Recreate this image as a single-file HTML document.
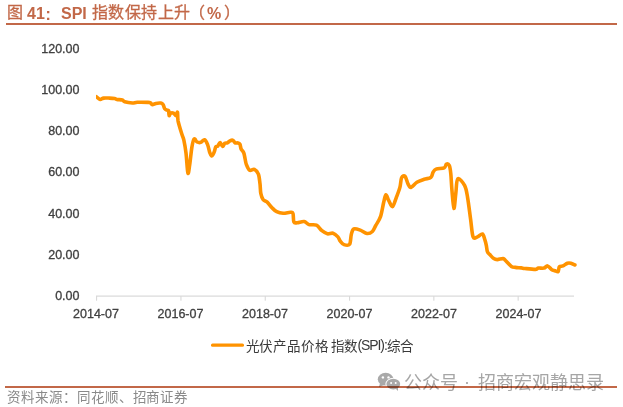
<!DOCTYPE html>
<html lang="zh-CN"><head><meta charset="utf-8">
<style>
html,body{margin:0;padding:0;background:#fff;}
body{width:623px;height:407px;overflow:hidden;position:relative;font-family:"Liberation Sans",sans-serif;}
.a{position:absolute;white-space:nowrap;line-height:1;}
.t{color:#C26848;}
.tc{font-family:"Liberation Serif",serif;font-size:16px;font-weight:500;-webkit-text-stroke:0.3px #C26848;}
.tl{font-family:"Liberation Sans",sans-serif;font-size:16px;font-weight:bold;}
#src{left:7px;top:390.5px;font-size:13.5px;letter-spacing:0.95px;font-weight:300;color:#8a8a8a;font-family:"Liberation Serif",serif;}
#wm{mix-blend-mode:multiply;}
.lg{font-size:13.5px;letter-spacing:0.9px;font-weight:350;color:#3a3a3a;font-family:"Liberation Sans",sans-serif;}
.lgl{font-size:14px;letter-spacing:-1.1px;font-weight:normal;}
.w{color:#a6a6a6;font-size:18px;font-family:"Liberation Sans",sans-serif;}
</style></head><body>
<span class="a t tc" style="left:7px;top:5px">图</span>
<span class="a t tl" style="left:27px;top:6px">41</span>
<span class="a t tl" style="left:45.5px;top:6.5px">:</span>
<span class="a t tl" style="left:61px;top:6px">SPI</span>
<span class="a t tc" style="left:92px;top:5px;letter-spacing:0.4px">指数保持上升</span>
<span class="a t tc" style="left:189px;top:5px">（</span>
<span class="a t tl" style="left:207px;top:6px">%</span>
<span class="a t tc" style="left:224px;top:5px">）</span>
<svg class="a" style="left:0;top:0" width="623" height="407" viewBox="0 0 623 407">
  <defs><clipPath id="pc"><rect x="96" y="30" width="500" height="270"/></clipPath></defs>
  <rect x="6" y="23" width="611" height="2" fill="#C26848"/>
  <g font-family="Liberation Sans, sans-serif" font-size="12.5" fill="#404040" stroke="#404040" stroke-width="0.3" text-anchor="end">
    <text x="79.5" y="53">120.00</text>
    <text x="79.5" y="94">100.00</text>
    <text x="79.5" y="135">80.00</text>
    <text x="79.5" y="176">60.00</text>
    <text x="79.5" y="218">40.00</text>
    <text x="79.5" y="259">20.00</text>
    <text x="79.5" y="300">0.00</text>
  </g>
  <g fill="#d9d9d9">
    <rect x="96" y="295.5" width="478" height="1.2"/>
    <rect x="96" y="296" width="1.1" height="4.7"/>
    <rect x="180.4" y="296" width="1.1" height="4.7"/>
    <rect x="264.7" y="296" width="1.1" height="4.7"/>
    <rect x="349" y="296" width="1.1" height="4.7"/>
    <rect x="433.3" y="296" width="1.1" height="4.7"/>
    <rect x="517.6" y="296" width="1.1" height="4.7"/>
  </g>
  <g font-family="Liberation Sans, sans-serif" font-size="12.5" fill="#404040" stroke="#404040" stroke-width="0.3" text-anchor="middle">
    <text x="96" y="318">2014-07</text>
    <text x="180.5" y="318">2016-07</text>
    <text x="265" y="318">2018-07</text>
    <text x="349.5" y="318">2020-07</text>
    <text x="434" y="318">2022-07</text>
    <text x="518.5" y="318">2024-07</text>
  </g>
  <path d="M96.30 96.70 C96.95 97.15 98.98 99.17 100.20 99.40 C101.42 99.63 102.08 98.32 103.60 98.10 C105.12 97.88 107.47 98.03 109.30 98.10 C111.13 98.17 113.32 98.28 114.60 98.50 C115.88 98.72 115.72 99.15 117.00 99.40 C118.28 99.65 121.02 99.60 122.30 100.00 C123.58 100.40 123.02 101.30 124.70 101.80 C126.38 102.30 130.30 102.92 132.40 103.00 C134.50 103.08 134.70 102.40 137.30 102.30 C139.90 102.20 145.80 102.30 148.00 102.40 C150.20 102.50 149.77 102.50 150.50 102.90 C151.23 103.30 151.50 104.72 152.40 104.80 C153.30 104.88 154.50 103.68 155.90 103.40 C157.30 103.12 159.58 102.87 160.80 103.10 C162.02 103.33 162.55 103.85 163.20 104.80 C163.85 105.75 164.03 107.90 164.70 108.80 C165.37 109.70 166.55 109.88 167.20 110.20 C167.85 110.52 168.28 109.80 168.60 110.70 C168.92 111.60 168.77 115.18 169.10 115.60 C169.43 116.02 169.85 113.60 170.60 113.20 C171.35 112.80 172.70 112.80 173.60 113.20 C174.50 113.60 175.35 115.77 176.00 115.60 C176.65 115.43 177.17 111.37 177.50 112.20 C177.83 113.03 177.50 116.92 178.00 120.60 C178.73 124.28 180.93 131.10 181.90 134.30 C182.87 137.50 183.12 136.68 183.80 139.80 C184.48 142.92 185.32 147.47 186.00 153.00 C186.68 158.53 187.28 171.03 187.90 173.00 C188.52 174.97 189.03 169.12 189.70 164.80 C190.37 160.48 191.17 151.40 191.90 147.10 C192.63 142.80 193.23 139.85 194.10 139.00 C194.97 138.15 195.98 141.43 197.10 142.00 C198.22 142.57 199.57 142.77 200.80 142.40 C202.03 142.03 203.37 139.43 204.50 139.80 C205.63 140.17 206.73 142.50 207.60 144.60 C208.47 146.70 209.05 150.53 209.70 152.40 C210.35 154.27 210.92 155.52 211.50 155.80 C212.08 156.08 212.70 154.88 213.20 154.10 C213.70 153.32 214.07 152.32 214.50 151.10 C214.93 149.88 215.23 147.67 215.80 146.80 C216.37 145.93 217.18 146.62 217.90 145.90 C218.62 145.18 219.32 142.42 220.10 142.50 C220.88 142.58 221.82 146.27 222.60 146.40 C223.38 146.53 224.00 143.88 224.80 143.30 C225.60 142.72 226.53 143.32 227.40 142.90 C228.27 142.48 229.07 141.23 230.00 140.80 C230.93 140.37 232.15 139.95 233.00 140.30 C233.85 140.65 234.32 142.47 235.10 142.90 C235.88 143.33 236.90 142.68 237.70 142.90 C238.50 143.12 239.33 143.20 239.90 144.20 C240.47 145.20 240.47 147.47 241.10 148.90 C241.73 150.33 243.05 151.22 243.70 152.80 C244.35 154.38 244.55 156.43 245.00 158.40 C245.45 160.37 245.63 162.63 246.40 164.60 C247.17 166.57 248.27 169.40 249.60 170.20 C250.93 171.00 252.93 168.73 254.40 169.40 C255.87 170.07 257.47 171.80 258.40 174.20 C259.33 176.60 259.60 180.62 260.00 183.80 C260.40 186.98 260.27 190.65 260.80 193.30 C261.33 195.95 262.13 198.23 263.20 199.70 C264.27 201.17 265.73 200.77 267.20 202.10 C268.67 203.43 270.42 206.10 272.00 207.70 C273.58 209.30 274.85 210.77 276.70 211.70 C278.55 212.63 280.80 213.20 283.10 213.30 C285.40 213.40 288.85 212.27 290.50 212.30 C292.15 212.33 292.43 211.87 293.00 213.50 C293.57 215.13 293.18 220.57 293.90 222.10 C294.62 223.63 295.60 222.80 297.30 222.70 C299.00 222.60 302.15 221.18 304.10 221.50 C306.05 221.82 306.95 223.98 309.00 224.60 C311.05 225.22 314.25 224.18 316.40 225.20 C318.55 226.22 320.07 229.27 321.90 230.70 C323.73 232.13 325.55 233.38 327.40 233.80 C329.25 234.22 331.25 232.68 333.00 233.20 C334.75 233.72 336.68 235.57 337.90 236.90 C339.12 238.23 339.28 239.92 340.30 241.20 C341.32 242.48 342.45 244.10 344.00 244.60 C345.55 245.10 348.38 245.88 349.60 244.20 C350.82 242.52 350.60 237.05 351.30 234.50 C352.00 231.95 352.30 229.63 353.80 228.90 C355.30 228.17 358.10 229.33 360.30 230.10 C362.50 230.87 364.98 233.27 367.00 233.50 C369.02 233.73 370.93 232.85 372.40 231.50 C373.87 230.15 374.45 227.88 375.80 225.40 C377.15 222.92 379.18 220.47 380.50 216.60 C381.82 212.73 382.80 205.83 383.70 202.20 C384.60 198.57 385.05 195.05 385.90 194.80 C386.75 194.55 387.70 198.73 388.80 200.70 C389.90 202.67 391.27 207.08 392.50 206.60 C393.73 206.12 394.97 201.00 396.20 197.80 C397.43 194.60 399.00 190.73 399.90 187.40 C400.80 184.07 400.73 179.63 401.60 177.80 C402.47 175.97 404.03 175.40 405.10 176.40 C406.17 177.40 407.02 181.97 408.00 183.80 C408.98 185.63 409.52 187.65 411.00 187.40 C412.48 187.15 414.70 183.65 416.90 182.30 C419.10 180.95 421.87 180.12 424.20 179.30 C426.53 178.48 429.42 178.58 430.90 177.40 C432.38 176.22 432.23 173.57 433.10 172.20 C433.97 170.83 434.25 169.93 436.10 169.20 C437.95 168.47 442.48 168.65 444.20 167.80 C445.92 166.95 445.55 164.47 446.40 164.10 C447.25 163.73 448.57 164.00 449.30 165.60 C450.03 167.20 450.37 169.68 450.80 173.70 C451.23 177.72 451.38 183.92 451.90 189.70 C452.42 195.48 453.25 207.75 453.90 208.40 C454.55 209.05 455.15 198.52 455.80 193.60 C456.45 188.68 456.32 180.22 457.80 178.90 C459.28 177.58 463.07 182.58 464.70 185.70 C466.33 188.82 466.62 192.02 467.60 197.60 C468.58 203.18 469.68 212.65 470.60 219.20 C471.52 225.75 471.95 233.95 473.10 236.90 C474.25 239.85 475.95 237.38 477.50 236.90 C479.05 236.42 481.17 233.50 482.40 234.00 C483.63 234.50 484.23 237.93 484.90 239.90 C485.57 241.87 485.98 243.83 486.40 245.80 C486.82 247.77 486.83 250.23 487.40 251.70 C487.97 253.17 488.73 253.45 489.80 254.60 C490.87 255.75 492.57 257.77 493.80 258.60 C495.03 259.43 495.65 259.60 497.20 259.60 C498.75 259.60 501.72 258.45 503.10 258.60 C504.48 258.75 504.12 259.20 505.50 260.50 C506.88 261.80 509.75 265.25 511.40 266.40 C513.05 267.55 513.75 267.15 515.40 267.40 C517.05 267.65 519.70 267.72 521.30 267.90 C522.90 268.08 522.62 268.25 525.00 268.50 C527.38 268.75 533.40 269.47 535.60 269.40 C537.80 269.33 536.80 268.32 538.20 268.10 C539.60 267.88 542.45 268.47 544.00 268.10 C545.55 267.73 546.25 265.68 547.50 265.90 C548.75 266.12 550.25 268.60 551.50 269.40 C552.75 270.20 553.90 270.33 555.00 270.70 C556.10 271.07 557.37 272.25 558.10 271.60 C558.83 270.95 558.58 267.75 559.40 266.80 C560.22 265.85 561.67 266.50 563.00 265.90 C564.33 265.30 566.08 263.65 567.40 263.20 C568.72 262.75 569.65 262.90 570.90 263.20 C572.15 263.50 574.23 264.70 574.90 265.00" fill="none" stroke="#FF9300" stroke-width="3.6" stroke-linejoin="round" stroke-linecap="round" clip-path="url(#pc)"/>
  <rect x="211" y="343.5" width="33" height="3.2" fill="#FF9300" rx="1.5"/>
  <rect x="5" y="386" width="612" height="2" fill="#C26848"/>
</svg>
<span class="a lg" style="left:245.5px;top:339.5px">光伏产品价格</span>
<span class="a lg" style="left:330.5px;top:339.5px">指数</span>
<span class="a lg lgl" style="left:357.5px;top:338px">(SPI):</span>
<span class="a lg" style="left:386.5px;top:339.5px">综合</span>
<span class="a" id="src">资料来源：同花顺、招商证券</span>
<div class="a" id="wm" style="left:0;top:0;width:623px;height:407px;">
<svg class="a" style="left:0;top:0" width="623" height="407">
  <g fill="#a9a9a9">
    <ellipse cx="385.6" cy="379.2" rx="7.8" ry="6.4"/>
    <path d="M380 383 L379 387 L384 385 Z"/>
  </g>
  <ellipse cx="393.3" cy="384.1" rx="7.9" ry="6.3" fill="#fff"/>
  <g fill="#a9a9a9">
    <ellipse cx="393.3" cy="384.1" rx="6.9" ry="5.3"/>
    <path d="M395 388 L398 391 L398 387 Z"/>
  </g>
  <g fill="#fff">
    <circle cx="382.9" cy="377.4" r="1.2"/><circle cx="388.5" cy="377.4" r="1.2"/>
    <circle cx="391.1" cy="383" r="1"/><circle cx="395.7" cy="383" r="1"/>
  </g>
</svg>
<span class="a w" style="left:404px;top:374px">公众号</span>
<span class="a w" style="left:464px;top:373px">·</span>
<span class="a w" style="left:478px;top:374px">招商宏观静思录</span>
</div>
</body></html>
